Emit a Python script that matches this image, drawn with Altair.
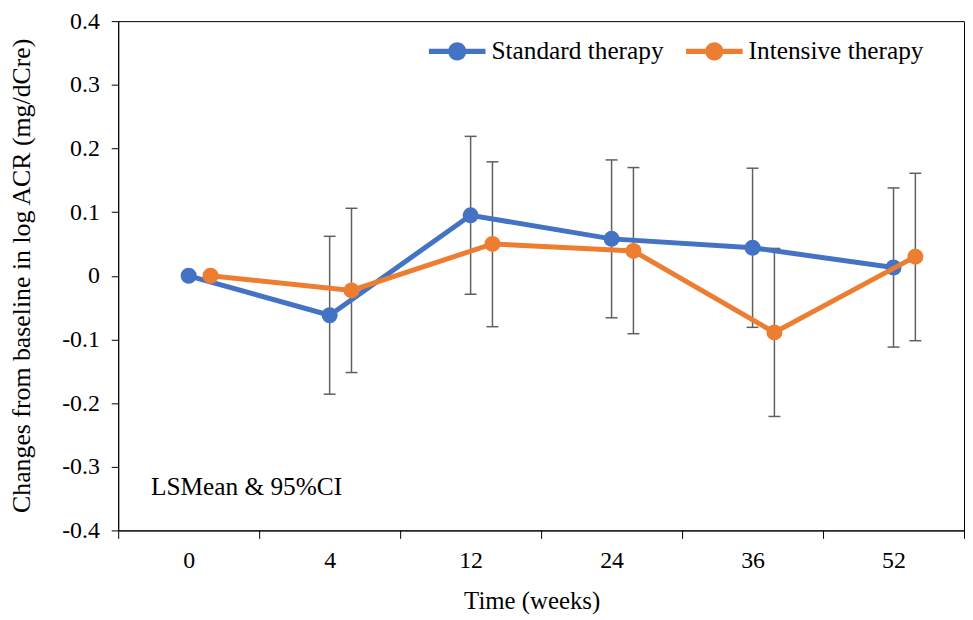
import json
import altair as alt
import pandas as pd

# ---- data ----
weeks = ["0", "4", "12", "24", "36", "52"]
series = ["Standard therapy", "Intensive therapy"]
colors = ["#4472C4", "#ED7D31"]
offsets = [0.0, 0.155]

std_mean = [0.0, -0.062, 0.095, 0.058, 0.044, 0.013]
std_lo = [None, -0.186, -0.029, -0.066, -0.081, -0.112]
std_hi = [None, 0.062, 0.219, 0.182, 0.169, 0.138]

int_mean = [0.0, -0.023, 0.050, 0.039, -0.089, 0.030]
int_lo = [None, -0.152, -0.080, -0.091, -0.221, -0.102]
int_hi = [None, 0.106, 0.179, 0.170, 0.043, 0.161]

y_ticks = [-0.4, -0.3, -0.2, -0.1, 0.0, 0.1, 0.2, 0.3, 0.4]

rows = []
for s, off, m, lo, hi in [
    (series[0], offsets[0], std_mean, std_lo, std_hi),
    (series[1], offsets[1], int_mean, int_lo, int_hi),
]:
    for i in range(len(weeks)):
        rows.append({"series": s, "x": i + off, "mean": m[i], "lo": lo[i], "hi": hi[i]})
df = pd.DataFrame(rows)

FONT = "Liberation Serif"
ERR = "#5f5f5f"

x_vals = [i - 0.5 for i in range(len(weeks) + 1)] + list(range(len(weeks)))
x_scale = alt.Scale(domain=[-0.5, len(weeks) - 0.5], nice=False, zero=False)
y_scale = alt.Scale(domain=[-0.4, 0.4], nice=False)

x_axis = alt.Axis(
    values=x_vals,
    labelExpr="datum.value % 1 === 0 ? " + json.dumps(weeks) + "[datum.value] : ''",
    tickOpacity={"condition": {"test": "datum.value % 1 !== 0", "value": 1}, "value": 0},
    labelOverlap=False,
    labelFlush=False,
    tickSize=8,
    labelPadding=10,
    labelFont=FONT,
    labelFontSize=24,
    labelColor="black",
    title="Time (weeks)",
    titleFont=FONT,
    titleFontSize=25,
    titleX=416.5,
    titleY=71,
    titleBaseline="middle",
    titleAlign="center",
    grid=False,
)
y_axis = alt.Axis(
    values=y_ticks,
    labelExpr="datum.value == 0 ? '0' : (datum.value < 0 ? '-' : '') + format(abs(datum.value), '.1f')",
    tickSize=7,
    labelPadding=12,
    labelFont=FONT,
    labelFontSize=24,
    labelColor="black",
    title="Changes from baseline in log ACR (mg/dCre)",
    titleFont=FONT,
    titleFontSize=26,
    titleX=-97,
    titleY=256,
    titleAngle=270,
    titleAlign="center",
    titleBaseline="middle",
    grid=False,
)

base = alt.Chart(df)

err = base.transform_filter("isValid(datum.lo)")
err_rule = err.mark_rule(color=ERR, strokeWidth=1.5).encode(
    x=alt.X("x:Q", scale=x_scale, axis=x_axis),
    y=alt.Y("lo:Q", scale=y_scale, axis=y_axis),
    y2="hi:Q",
)
cap_lo = err.mark_tick(color=ERR, thickness=1.5, size=12, orient="horizontal", opacity=1).encode(
    x=alt.X("x:Q", scale=x_scale, axis=x_axis), y=alt.Y("lo:Q", scale=y_scale, axis=y_axis)
)
cap_hi = err.mark_tick(color=ERR, thickness=1.5, size=12, orient="horizontal", opacity=1).encode(
    x=alt.X("x:Q", scale=x_scale, axis=x_axis), y=alt.Y("hi:Q", scale=y_scale, axis=y_axis)
)

symbol_path = (
    "M-1,-0.09 L-0.25,-0.09 L-0.25,0.09 L-1,0.09 Z "
    "M0.25,-0.09 L1,-0.09 L1,0.09 L0.25,0.09 Z "
    "M-0.32,0 A0.32,0.32 0 1,1 0.32,0 A0.32,0.32 0 1,1 -0.32,0 Z"
)

color = alt.Color(
    "series:N",
    scale=alt.Scale(domain=series, range=colors),
    legend=alt.Legend(
        title=None,
        orient="none",
        legendX=313,
        legendY=2,
        direction="horizontal",
        symbolType=symbol_path,
        symbolSize=3249,
        symbolStrokeWidth=0,
        symbolOpacity=1,
        labelFont=FONT,
        labelFontSize=25.5,
        labelColor="black",
        labelOffset=6,
        labelLimit=400,
        columnPadding=22,
    ),
)

layers = [err_rule, cap_lo, cap_hi]
for s, c in zip(series, colors):
    sub = base.transform_filter(alt.datum.series == s)
    enc = dict(
        x=alt.X("x:Q", scale=x_scale, axis=x_axis),
        y=alt.Y("mean:Q", scale=y_scale, axis=y_axis),
    )
    layers.append(sub.mark_line(color=c, strokeWidth=5).encode(**enc))
    layers.append(sub.mark_point(filled=True, size=260, opacity=1).encode(color=color, **enc))

note = alt.Chart(pd.DataFrame({"t": ["LSMean & 95%CI"]})).mark_text(
    align="left", baseline="alphabetic", font=FONT, fontSize=25.5, color="black"
).encode(x=alt.value(33), y=alt.value(477), text="t:N")
layers.append(note)

chart = (
    alt.layer(*layers)
    .properties(
        width=852,
        height=513,
        autosize="none",
        padding={"left": 111, "top": 11, "right": 1, "bottom": 88},
    )
    .configure(
        font=FONT,
        style={"guide-label": {"font": FONT}, "guide-title": {"font": FONT}},
    )
    .configure_view(stroke="black", strokeWidth=1)
    .configure_axis(
        labelFont=FONT,
        titleFont=FONT,
        labelColor="black",
        titleColor="black",
        titleFontWeight="normal",
        domainColor="black",
        tickColor="black",
        domainWidth=1,
        tickWidth=1,
    )
)

chart.save("out.html", embed_options={"renderer": "svg", "actions": False})
